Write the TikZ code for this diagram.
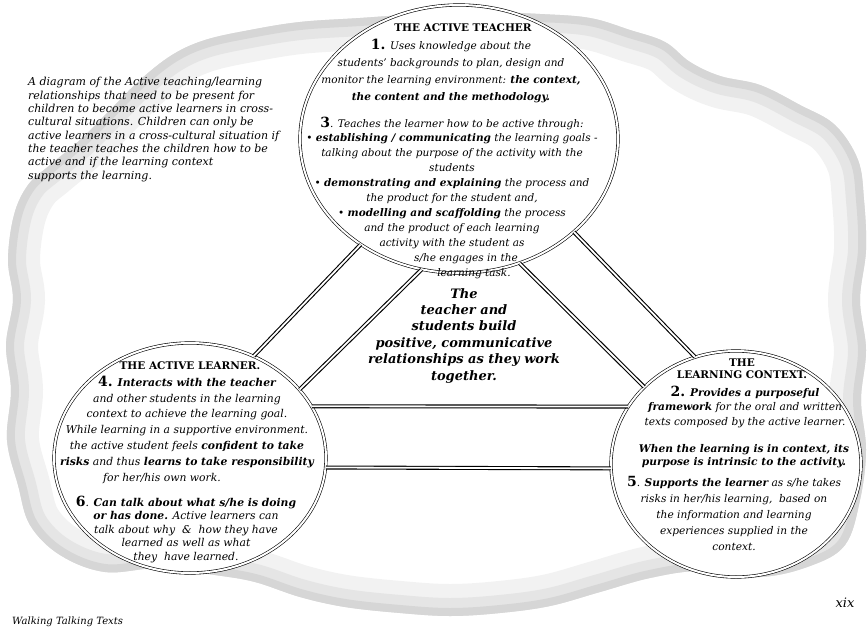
\documentclass[tikz,border=0pt]{standalone}
\usepackage{fontspec}
\setmainfont{DejaVu Serif}
\usetikzlibrary{shapes.geometric}

\newcommand{\bignum}[1]{{\fontsize{14}{14}\selectfont\bfseries\upshape #1}}

\tikzset{
  ring/.style={ellipse, draw, double, double distance=2pt, line width=0.6pt, fill=white, inner sep=0pt},
  rail/.style={draw, double, double distance=1.8pt, line width=1.1pt},
  blurb/.style={align=center, inner sep=0pt, anchor=base, font=\itshape},
  head/.style={align=center, inner sep=0pt, anchor=base, font=\bfseries\fontsize{10.5}{12}\selectfont},
}

\begin{document}
\begin{tikzpicture}[x=1pt, y=-1pt]
  \useasboundingbox (0,0) rectangle (868,632);
  % cloud
  \path[save path=\cloudpath] plot[smooth cycle, tension=0.6] coordinates {(300,22) (250,30) (205,40) (172,55) (140,80) (110,110) (80,140) (50,165) (28,185) (14,215) (8,260) (13,300) (6,345) (11,390) (7,440) (18,485) (30,525) (60,555) (105,572) (160,568) (215,575) (255,582) (300,597) (345,607) (400,613) (450,616) (500,613) (550,606) (600,592) (650,578) (700,571) (760,577) (810,566) (845,545) (860,500) (866,450) (861,400) (866,350) (860,300) (866,250) (864,200) (858,160) (835,125) (800,105) (760,85) (720,76) (690,62) (665,42) (630,30) (590,18) (540,14) (480,12) (420,14) (360,18)};
  \begin{scope}
    \clip[use path=\cloudpath];
    \draw[use path=\cloudpath, gray!10, line width=64pt];
    \draw[use path=\cloudpath, gray!20, line width=36pt];
    \draw[use path=\cloudpath, gray!32, line width=16pt];
  \end{scope}

  % circles
  \node[ring, minimum width=318pt, minimum height=268pt] (teacher) at (459,139) {};
  \node[ring, minimum width=272pt, minimum height=230pt] (learner) at (190,458) {};
  \node[ring, minimum width=250pt, minimum height=226pt] (context) at (736,464) {};

  % triangle
  \draw[rail] (teacher.227) -- (learner.58);
  \draw[rail] (teacher.254) -- (learner.32);
  \draw[rail] (teacher.296) -- (context.140);
  \draw[rail] (teacher.321) -- (context.111);
  \draw[rail] (learner.23) -- (context.152);
  \draw[rail] (learner.356) -- (context.182);

  % teacher (anchor base = last line)
  \node[head] (teacherhead) at (463,31) {THE ACTIVE TEACHER};
  \node[blurb, font=\itshape\fontsize{10.5}{17}\selectfont] (one) at (451,100)
    {\bignum{1.} Uses knowledge about the\\students' backgrounds to plan, design and\\monitor the learning environment: \textbf{the context,}\\\textbf{the content and the methodology.}};
  \node[blurb, font=\itshape\fontsize{10.5}{14.9}\selectfont] (three) at (452,276)
    {\bignum{3}. Teaches the learner how to be active through:\\
     • \textbf{establishing / communicating} the learning goals -\\
     talking about the purpose of the activity with the\\
     students\\
     • \textbf{demonstrating and explaining} the process and\\
     the product for the student and,\\
     • \textbf{modelling and scaffolding} the process\\
     and the product of each learning\\
     activity with the student as\\
     \hspace*{28pt}s/he engages in the\\
     \hspace*{44pt}learning task.};

  % learner
  \node[head] (learnerhead) at (190,369) {THE ACTIVE LEARNER.};
  \node[blurb, font=\itshape\fontsize{10.8}{15.8}\selectfont] (four) at (187,481)
    {\textbf{\bignum{4.} Interacts with the teacher}\\
     and other students in the learning\\
     context to achieve the learning goal.\\
     While learning in a supportive environment.\\
     the active student feels \textbf{confident to take}\\
     \textbf{risks} and thus \textbf{learns to take responsibility}\\
     for her/his own work.\hspace*{50pt}};
  \node[blurb, font=\itshape\fontsize{10.8}{13.5}\selectfont] (six) at (186,560)
    {\bignum{6}. \textbf{Can talk about what s/he is doing}\\
     \textbf{or has done.} Active learners can\\
     talk about why \ \& \ how they have\\
     learned as well as what\\
     they \ have learned.};

  % context
  \node[head] (contexthead) at (742,378) {THE\\LEARNING CONTEXT.};
  \node[blurb, font=\itshape\fontsize{10.6}{14.5}\selectfont] (two) at (745,425)
    {\textbf{\bignum{2.} Provides a purposeful}\\
     \textbf{framework} for the oral and written\\
     texts composed by the active learner.};
  \node[blurb, font=\bfseries\itshape\fontsize{10.6}{12.5}\selectfont] (intrinsic) at (744,465)
    {When the learning is in context, its\\purpose is intrinsic to the activity.};
  \node[blurb, font=\itshape\fontsize{10.6}{16}\selectfont] (five) at (734,550)
    {\bignum{5}. \textbf{Supports the learner} as s/he takes\\
     risks in her/his learning, \ based on\\
     the information and learning\\
     experiences supplied in the\\
     context.};

  % middle
  \node[blurb, font=\bfseries\itshape\fontsize{13}{16.4}\selectfont] (together) at (464,380)
    {The\\teacher and\\students build\\positive, communicative\\relationships as they work\\together.};

  % caption and page
  \node[blurb, align=left, anchor=base west, font=\itshape\fontsize{11}{13.3}\selectfont] (caption) at (28,179)
    {A diagram of the Active teaching/learning\\
     relationships that need to be present for\\
     children to become active learners in cross-\\
     cultural situations. Children can only be\\
     active learners in a cross-cultural situation if\\
     the teacher teaches the children how to be\\
     active and if the learning context\\
     supports the learning.};
  \node[blurb, anchor=base west, font=\itshape\fontsize{10}{12}\selectfont] (book) at (12,624) {Walking Talking Texts};
  \node[blurb, font=\itshape\fontsize{13}{13}\selectfont] (page) at (845,607) {xix};
\end{tikzpicture}
\end{document}
